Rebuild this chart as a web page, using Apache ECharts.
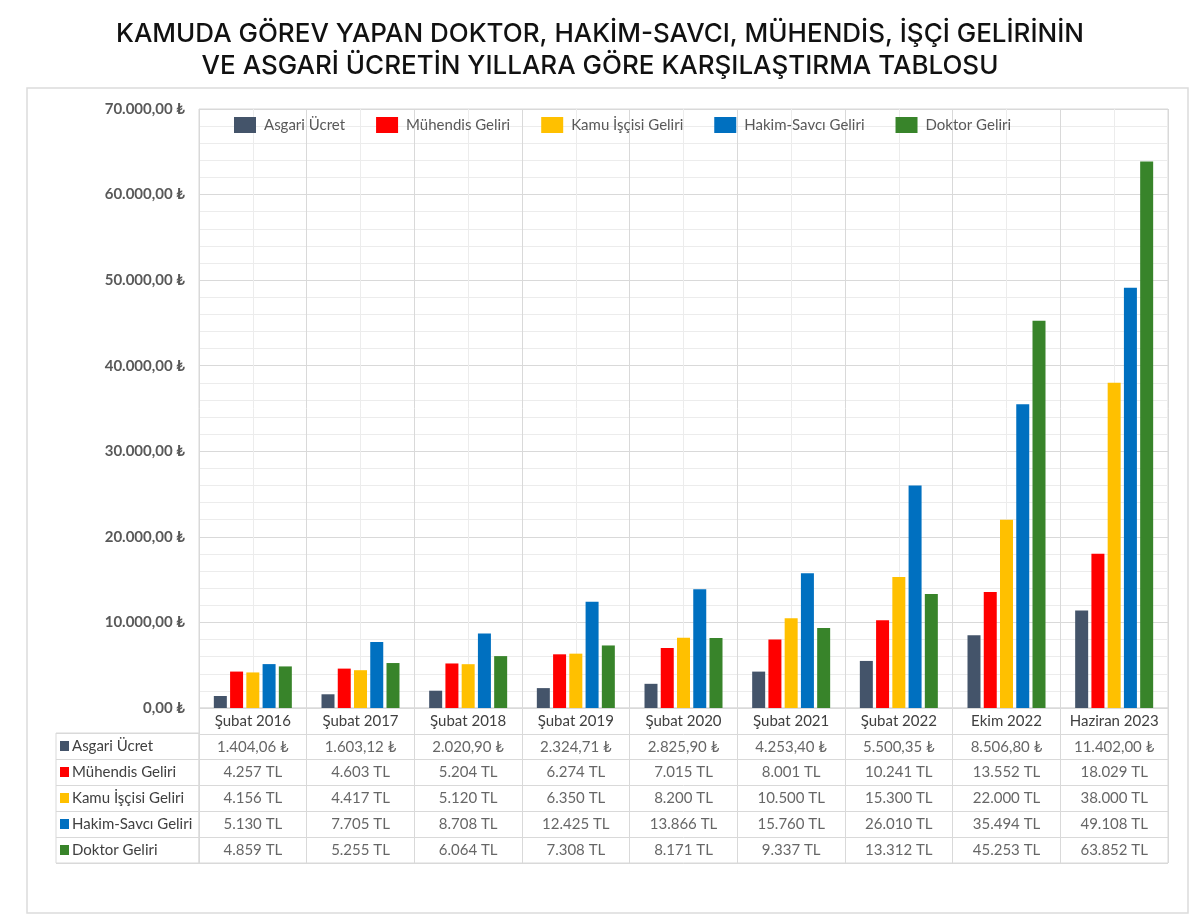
<!DOCTYPE html>
<html>
<head>
<meta charset="utf-8">
<script src="https://cdn.jsdelivr.net/npm/echarts@6/dist/echarts.min.js"></script>
<style>
  html, body { margin: 0; padding: 0; background: #fff; }
  #chart { width: 1200px; height: 924px; }
</style>
</head>
<body>
<div id="chart"></div>
<script>
// kategoriler ve seriler
var categories = ["Şubat 2016", "Şubat 2017", "Şubat 2018", "Şubat 2019", "Şubat 2020", "Şubat 2021", "Şubat 2022", "Ekim 2022", "Haziran 2023"];
var seriesNames = ["Asgari Ücret", "Mühendis Geliri", "Kamu İşçisi Geliri", "Hakim-Savcı Geliri", "Doktor Geliri"];
var asgari = [1404.06, 1603.12, 2020.90, 2324.71, 2825.90, 4253.40, 5500.35, 8506.80, 11402.00];
var muhendis = [4257, 4603, 5204, 6274, 7015, 8001, 10241, 13552, 18029];
var kamuIscisi = [4156, 4417, 5120, 6350, 8200, 10500, 15300, 22000, 38000];
var hakimSavci = [5130, 7705, 8708, 12425, 13866, 15760, 26010, 35494, 49108];
var doktor = [4859, 5255, 6064, 7308, 8171, 9337, 13312, 45253, 63852];
var colors = ["#44546a", "#ff0000", "#ffc000", "#0070c0", "#38842a"];

var allData = [asgari, muhendis, kamuIscisi, hakimSavci, doktor];
var font = "Lato, 'Noto Sans', 'DejaVu Sans', sans-serif";
var gridColor = "#d9d9d9";

// 1234.5 -> "1.234,50"
function fmt(v, dec) {
  var parts = v.toFixed(dec).split(".");
  parts[0] = parts[0].replace(/\B(?=(\d{3})+(?!\d))/g, ".");
  return parts.join(",");
}

var myChart = echarts.init(document.getElementById("chart"));

var barSeries = seriesNames.map(function (name, i) {
  return {
    name: name,
    type: "bar",
    xAxisIndex: 0,
    yAxisIndex: 0,
    barWidth: 13,
    barGap: "25%",
    itemStyle: { color: colors[i] },
    data: allData[i]
  };
});

// tablo hucreleri
var tableSeries = seriesNames.map(function (name, i) {
  return {
    name: name + " tablo",
    type: "scatter",
    xAxisIndex: 2,
    yAxisIndex: 1,
    symbolSize: 0,
    silent: true,
    label: {
      show: true,
      position: "inside",
      color: "#404040",
      fontSize: 15,
      fontFamily: font,
      formatter: function (p) {
        return i === 0 ? fmt(p.value[2], 2) + " ₺" : fmt(p.value[2], 0) + " TL";
      }
    },
    data: allData[i].map(function (v, k) { return [k, name, v]; })
  };
});

var rich = { t: { color: "#404040", fontSize: 15, fontFamily: font, padding: [0, 0, 0, 3] } };
colors.forEach(function (c, i) {
  rich["s" + i] = { width: 9, height: 10, backgroundColor: c };
});

const option = {
  title: {
    text: "KAMUDA GÖREV YAPAN DOKTOR, HAKİM-SAVCI, MÜHENDİS, İŞÇİ GELİRİNİN\nVE ASGARİ ÜCRETİN YILLARA GÖRE KARŞILAŞTIRMA TABLOSU",
    left: "center",
    top: 13,
    textStyle: {
      color: "#111",
      fontSize: 26,
      fontWeight: 500,
      lineHeight: 32,
      fontFamily: "Inter, 'Open Sans', sans-serif"
    }
  },
  graphic: [
    {
      type: "rect",
      shape: { x: 27, y: 88, width: 1161, height: 825 },
      style: { fill: "none", stroke: "#dcdcdc", lineWidth: 1.5 },
      silent: true
    }
  ],
  legend: {
    data: seriesNames,
    left: 229,
    top: 112,
    icon: "rect",
    itemWidth: 22,
    itemHeight: 16,
    itemGap: 31,
    textStyle: { color: "#595959", fontSize: 15, fontFamily: font, padding: [0, 0, 0, 3] }
  },
  grid: [
    { left: 199, right: 32, top: 109, height: 599, show: true, borderColor: gridColor, borderWidth: 1 },
    { left: 199, right: 32, top: 708, height: 155, show: true, borderColor: gridColor, borderWidth: 1 },
    { left: 56, width: 143, top: 733, height: 130, show: true, borderColor: gridColor, borderWidth: 1 }
  ],
  xAxis: [
    {
      type: "category",
      gridIndex: 0,
      data: categories,
      axisLine: { show: false },
      axisTick: { show: false },
      splitLine: { show: false },
      axisLabel: { margin: 6, color: "#404040", fontSize: 15, fontFamily: font, interval: 0 }
    },
    {
      // ara dikey cizgiler
      type: "value",
      gridIndex: 0,
      min: 0,
      max: 18,
      interval: 1,
      axisLine: { show: false },
      axisTick: { show: false },
      axisLabel: { show: false },
      splitLine: { show: true, lineStyle: { color: [gridColor, "#ececec"], width: 1 } }
    },
    {
      type: "category",
      gridIndex: 1,
      data: categories,
      axisLine: { show: false },
      axisTick: { show: false },
      axisLabel: { show: false },
      splitLine: { show: true, interval: 0, lineStyle: { color: gridColor } }
    },
    {
      type: "value",
      gridIndex: 2,
      show: false
    }
  ],
  yAxis: [
    {
      type: "value",
      gridIndex: 0,
      min: 0,
      max: 70000,
      interval: 10000,
      axisLine: { show: false },
      axisTick: { show: false },
      axisLabel: {
        margin: 14,
        color: "#595959",
        fontSize: 15,
        fontWeight: "bold",
        fontFamily: font,
        formatter: function (v) { return fmt(v, 2) + " ₺"; }
      },
      splitLine: { lineStyle: { color: gridColor } },
      minorTick: { show: false, splitNumber: 5 },
      minorSplitLine: { show: true, lineStyle: { color: "#ececec" } }
    },
    {
      type: "category",
      gridIndex: 1,
      inverse: true,
      data: [""].concat(seriesNames),
      axisLine: { show: false },
      axisTick: { show: false },
      axisLabel: { show: false },
      splitLine: { show: true, interval: 0, lineStyle: { color: gridColor } }
    },
    {
      type: "category",
      gridIndex: 2,
      inverse: true,
      data: seriesNames,
      axisLine: { show: false },
      axisTick: { show: false },
      splitLine: { show: true, interval: 0, lineStyle: { color: gridColor } },
      axisLabel: {
        inside: true,
        margin: 4,
        interval: 0,
        formatter: function (v, i) { return "{s" + i + "|}{t|" + v + "}"; },
        rich: rich
      }
    }
  ],
  series: barSeries.concat(tableSeries)
};

myChart.setOption(option);
window.onresize = function () {
  myChart.resize();
};
</script>
</body>
</html>
